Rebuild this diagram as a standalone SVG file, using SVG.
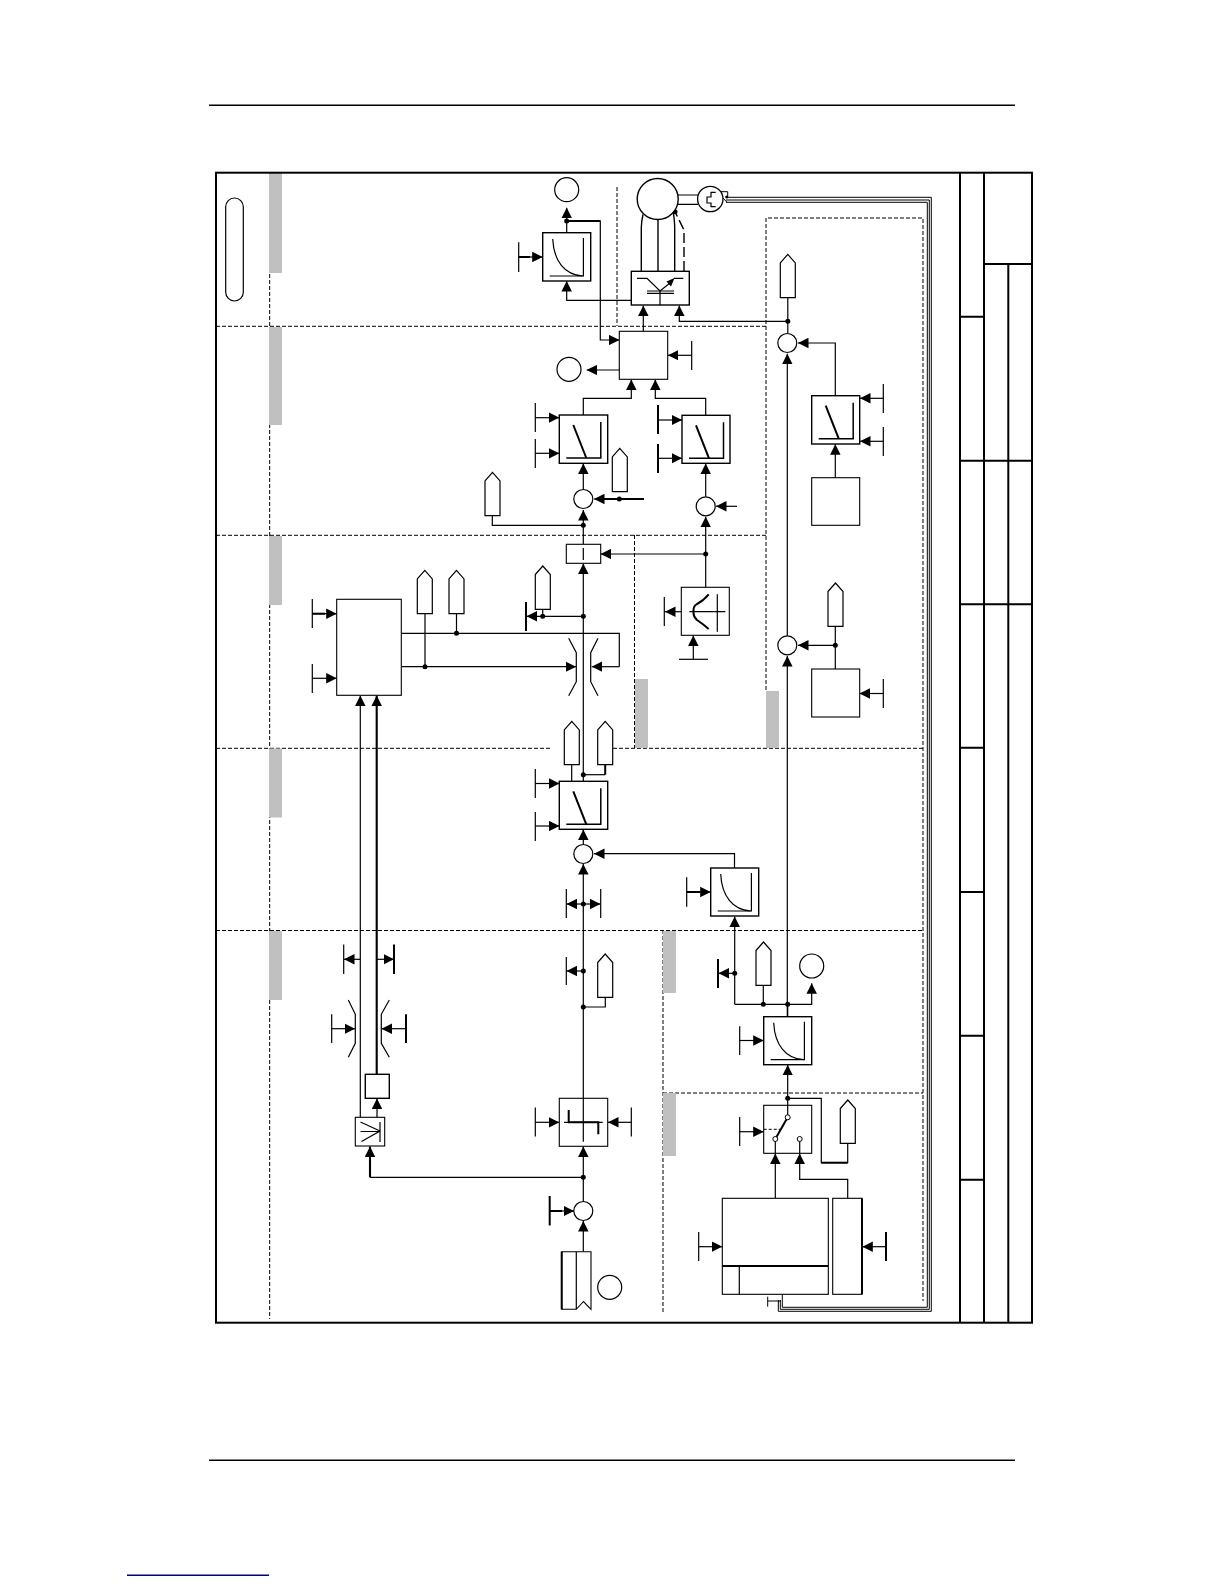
<svg xmlns="http://www.w3.org/2000/svg" width="1224" height="1584" viewBox="0 0 1224 1584">
<defs>
<marker id="a" viewBox="0 0 10 10" refX="10" refY="5" markerWidth="10.5" markerHeight="10.5" markerUnits="userSpaceOnUse" orient="auto"><path d="M0,0L10,5L0,10z" fill="#000"/></marker>
<path id="tag" d="M0,8.5L7.5,0L15,8.5V43.3H0z"/>
<g id="curve"><path d="M10,6C11,28 22,42 40,43" class="n m"/><path d="M7,43H40.7V5" class="n t12"/></g>
<g id="ramp"><path d="M14,10L27,43" class="n t"/><path d="M7,43H41.5V7" class="n t15"/></g>
</defs>
<style>
.n{fill:none;stroke:#000}
.m{stroke-width:1.2}
.t{stroke-width:2}
.t15{stroke-width:1.5}
.t12{stroke-width:1.2}
.b{fill:#fff;stroke:#000;stroke-width:1.1}
.bt{fill:#fff;stroke:#000;stroke-width:1.4}
.tagc{fill:#fff;stroke:#000;stroke-width:1.2}
.d{fill:none;stroke:#000;stroke-width:1;stroke-dasharray:4 2}
.g{fill:#c0c0c0}
.w{fill:none;stroke:#000;stroke-width:1}
.k{fill:none;stroke:#000;stroke-width:1.2;marker-end:url(#a)}
.kt{fill:none;stroke:#000;stroke-width:2.1;marker-end:url(#a)}
.dot{fill:#000}
.f{fill:none;stroke:#000;stroke-width:2}
.o{fill:#fff;stroke:#000;stroke-width:1.2}
</style>
<rect width="1224" height="1584" fill="#fff"/>

<g id="page-rules">
<path d="M209,105.3H1015M209,1460.3H1015" class="n t15"/>
<path d="M127,1575.3H269" fill="none" stroke="#000080" stroke-width="1.5"/>
</g>

<g id="zones">
<path class="d" d="M216,326.3H766M216,535.3H766M216,748.3H550M613,748.3H923M216,930.5H923M663,1093H923"/>
<path class="d" d="M269.7,172V1319M617,187V326M766,690V218H923V1301M634.5,535V748M663,930V1313"/>
<rect class="g" x="269" y="173" width="13" height="100"/>
<rect class="g" x="269" y="327" width="13" height="98"/>
<rect class="g" x="269" y="536" width="13" height="69"/>
<rect class="g" x="269" y="748.5" width="13" height="69"/>
<rect class="g" x="269" y="931" width="13" height="69"/>
<rect class="g" x="635" y="679" width="13" height="69"/>
<rect class="g" x="766" y="691" width="13" height="57"/>
<rect class="g" x="663" y="931" width="13" height="62"/>
<rect class="g" x="663" y="1093" width="13" height="63"/>
</g>

<g id="frame">
<rect x="216" y="172.7" width="816" height="1150" class="f"/>
<path class="f" d="M960,172.7V1322.7M984,172.7V1322.7M1008.3,264V1322.7M984,264H1032M960,316.7H984M960,460.7H1032M960,604.3H1032M960,747.7H984M960,892H984M960,1035.7H984M960,1179.7H984"/>
<rect x="225.7" y="198" width="17.6" height="103" rx="8.8" fill="#fff" stroke="#000" stroke-width="1.2"/>
</g>

<g id="connectors">
<path class="k" d="M518.7,257H542.7"/><path class="n t" d="M518.7,257H530"/>
<path class="n m" d="M518.7,242.3V272"/>
<path class="k" d="M566.7,232.7V207.7"/>
<path class="k" d="M566.7,221H600.3V340H619.3"/><path class="n t" d="M566.7,221H600.3"/>
<path class="k" d="M631.3,300.3H566.7V281"/>
<path class="k" d="M619.3,370H586.7"/>
<path class="k" d="M583.3,415V398.3H631.3V379.5"/>
<path class="k" d="M705.7,415.3V398.3H655.3V379.5"/>
<path class="k" d="M535.3,417.7H559.3"/><path class="k" d="M535.3,453.3H559.3"/>
<path class="n m" d="M535.3,403V432M535.3,439V468"/>
<path class="k" d="M583.3,489.5V463.5"/>
<path class="k" d="M644,499H594"/><path class="n t" d="M644,499H600"/>
<path class="k" d="M583.3,544.3V510"/>
<path class="n m" d="M492.3,515.7V525.3H583.3"/>
<path class="k" d="M658,420H682"/><path class="k" d="M658,458.3H682"/>
<path class="n t" d="M658,405V434M658,444V473"/>
<path class="k" d="M705.7,496.8V463.5"/>
<path class="k" d="M737,506.3H716"/>
<path class="k" d="M705.7,587.3V516.7"/>
<path class="k" d="M705.7,554H600.7"/>
<path class="k" d="M681.3,611.7H665"/><path class="n m" d="M664.3,597V626"/>
<path class="k" d="M693.3,659.3V635.5"/><path class="n m" d="M679,659.3H708"/>
<path class="k" d="M583.3,781.3V563.5"/>
<path class="k" d="M583.3,616.3H526.5"/><path class="n t" d="M526,602V631"/>
<path class="n m" d="M542.7,609.3V616.3"/>
<path class="n m" d="M401.3,633.3H619.3V666.7"/>
<path class="k" d="M619.3,666.7H591.7"/>
<path class="k" d="M401.3,666.7H576"/>
<path class="n m" d="M425,613.7V666.7M456.5,613.7V633.3"/>
<path class="k" d="M312.3,613.7H336.7"/><path class="n t" d="M312.3,613.7H325"/><path class="n m" d="M312.3,599V628"/>
<path class="k" d="M312.3,678.3H336.7"/><path class="n m" d="M312.3,664V693"/>
<path class="k" d="M360.3,1117.3V695.5"/>
<path class="kt" d="M376.7,1074.3V695.5"/>
<path class="k" d="M360.3,959.3H344"/><path class="n m" d="M343.7,944.5V974"/>
<path class="k" d="M376.7,959.3H394"/><path class="n t" d="M394,944.5V974"/>
<path class="k" d="M331.7,1028.7H355"/><path class="n m" d="M331.7,1014.3V1043"/>
<path class="k" d="M406,1028.7H381.5"/><path class="n t" d="M406,1014.3V1043"/>
<path class="n m" d="M348.3,1000L355.3,1014.3V1043.3L348.3,1057.3M389.3,1000L381.3,1014.3V1043.3L389.3,1057.3"/>
<path class="n m" d="M568.7,638.3L576.3,652.7V681.7L568.7,695.7M598,638.3L590.7,652.7V681.7L598,695.7"/>
<path class="n m" d="M571.7,764.7V781.3"/><path class="n t" d="M605.2,764.7V774.7"/><path class="n m" d="M605.2,774.7H583.3"/>
<path class="k" d="M535.3,783.5H559.3"/><path class="k" d="M535.3,826H559.3"/>
<path class="n m" d="M535.3,769V798M535.3,812V841"/>
<path class="k" d="M583.3,844.5V829.5"/>
<path class="k" d="M734.5,868V853.7H594"/>
<path class="k" d="M583.3,1098.3V864"/>
<path class="k" d="M583.3,904H566.5"/><path class="k" d="M583.3,904H600.5"/><path class="n m" d="M566.3,889V918M600.7,889V918"/>
<path class="k" d="M686.7,892H710.7"/><path class="n t" d="M686.7,892H700"/><path class="n m" d="M686.7,877.3V906.7"/>
<path class="k" d="M734.7,1004.3V916.5"/>
<path class="k" d="M734.7,973.3H718.5"/><path class="n t" d="M718,959V988"/>
<path class="k" d="M734.7,1004.3H811.7V983.3"/>
<path class="n m" d="M763.3,985.3V1004.3M787.7,1016.7V1004.3"/>
<path class="k" d="M583.3,971H566.5"/><path class="n m" d="M566.3,957V985"/>
<path class="n m" d="M583.3,1007H605.3V997.3"/>
<path class="k" d="M535.3,1122.3H559.3"/><path class="n m" d="M535.3,1107.5V1136.5"/>
<path class="k" d="M631.3,1122.3H608"/><path class="n m" d="M631.3,1107.5V1136.5"/>
<path class="k" d="M583.3,1201.5V1146.5"/>
<path class="n m" d="M583.3,1177.3H370"/><path class="kt" d="M370,1177.3V1146.5"/>
<path class="k" d="M377,1117.3V1098.5"/>
<path class="k" d="M549.7,1211H574"/><path class="n t" d="M549.7,1211H562M549.7,1196V1225.5"/>
<path class="k" d="M583.3,1251.7V1221"/>
<path class="k" d="M787.3,1016.7V656"/>
<path class="k" d="M787.3,635.8V353.7"/>
<path class="k" d="M835.3,669V645.3H798"/>
<path class="n m" d="M835.3,626V645.3"/>
<path class="k" d="M883.3,693.5H859.7"/><path class="n m" d="M883.3,679V708"/>
<path class="k" d="M835.3,395.7V343H798"/>
<path class="k" d="M835.3,477.7V444.2"/>
<path class="k" d="M883.3,398.3H860"/><path class="k" d="M883.3,441.3H860"/>
<path class="n m" d="M883.3,384V413M883.3,427V456"/>
<path class="n m" d="M787.8,297.7V333.5"/>
<path class="k" d="M787.8,321.3H679.3V305.5"/>
<path class="k" d="M643.3,331.3V305.5"/>
<path class="k" d="M691.7,355.3H667.9"/><path class="n m" d="M691.7,341V370"/>
<path class="n" stroke-width="1.4" d="M641.3,271V228Q641.3,222 643,214.5M658,271V219.5M674.7,271V228Q674.7,222 673.3,212"/>
<path class="n" stroke-width="1.4" stroke-dasharray="10 4" d="M684,271V230L675,211.7"/>
<path class="n m" d="M678,195H698M678,204.3H698"/>
<path class="w" d="M720,191.7H727.7V197M722,197L727,202.3"/>
<path class="w" d="M726.7,197.3H931.3V1311.3H778.3V1300"/>
<path class="w" d="M726,200H929.3V1309.3H780.3V1300"/>
<path class="w" d="M726,202.3H927.3V1307.3H782.3V1294.3"/>
<path class="w" d="M767.7,1296.7V1306.7M767.7,1301H781"/>
<path class="k" d="M787.7,1117.3V1064.9"/>
<path class="k" d="M739.7,1040.5H763.7"/><path class="n m" d="M739.7,1026.3V1055"/>
<path class="k" d="M739.7,1131.7H763.7"/><path class="n m" d="M739.7,1117V1146"/>
<path class="n m" d="M787.7,1098.3H821.3V1162.7H847.7V1143.3"/><path class="n t" d="M821.3,1162.7H847.7"/>
<path class="k" d="M775.3,1198.3V1153.5"/>
<path class="k" d="M847.7,1198.3V1179.3H799.7V1153.5"/>
<path class="k" d="M698.7,1246.7H722.3"/><path class="n m" d="M698.7,1232V1261"/>
<path class="k" d="M886,1246.7H862.3"/><path class="n t" d="M886,1232V1261"/>
</g>

<g id="dots">
<g class="dot">
<circle cx="566.7" cy="221" r="2.5"/><circle cx="583.3" cy="525.3" r="2.5"/><circle cx="619.3" cy="499" r="2.5"/>
<circle cx="705.7" cy="554" r="2.5"/><circle cx="583.3" cy="616.3" r="2.5"/><circle cx="542.7" cy="616.3" r="2.5"/>
<circle cx="425" cy="666.7" r="2.5"/><circle cx="456.5" cy="633.3" r="2.5"/><circle cx="583.3" cy="774.7" r="2.5"/>
<circle cx="583.3" cy="904" r="2.5"/><circle cx="583.3" cy="971" r="2.5"/><circle cx="583.3" cy="1007" r="2.5"/>
<circle cx="583.3" cy="1177.3" r="2.5"/><circle cx="734.7" cy="973.3" r="2.5"/><circle cx="763.3" cy="1004.3" r="2.5"/>
<circle cx="787.7" cy="1004.3" r="2.5"/><circle cx="787.7" cy="1098.3" r="2.5"/><circle cx="835.3" cy="645.3" r="2.5"/>
<circle cx="787.8" cy="321.3" r="2.5"/><circle cx="675" cy="211.7" r="2.5"/><circle cx="726.7" cy="197" r="1.5"/>
</g>
</g>

<g id="curve-1"><rect class="bt" x="542.7" y="232.7" width="48" height="48.3"/><use href="#curve" x="542.7" y="233"/></g>
<g id="curve-2"><rect class="bt" x="710.7" y="868" width="48" height="48"/><use href="#curve" x="710.7" y="868"/></g>
<g id="curve-3"><rect class="bt" x="763.7" y="1016.7" width="48" height="48"/><use href="#curve" x="763.7" y="1016.7"/></g>
<g id="ramp-1"><rect class="bt" x="559.3" y="415" width="48.4" height="48.3"/><use href="#ramp" x="559.3" y="415"/></g>
<g id="ramp-2"><rect class="bt" x="682" y="415.3" width="48" height="48"/><use href="#ramp" x="682" y="415.3"/></g>
<g id="ramp-3"><rect class="bt" x="559.3" y="781.3" width="48.4" height="48"/><use href="#ramp" x="559.3" y="781.3"/></g>
<g id="ramp-4"><rect class="bt" x="811.7" y="395.7" width="48" height="48.3"/><use href="#ramp" x="811.7" y="395.7"/></g>
<g id="current-controller"><rect class="b" x="619.3" y="331.3" width="48.4" height="48"/></g>
<g id="block-right"><rect class="b" x="811.7" y="477.7" width="48" height="47.6"/></g>
<g id="block-mid"><rect class="b" x="811.7" y="669" width="48" height="48"/></g>
<g id="igbt"><rect class="bt" x="631.3" y="271.3" width="58" height="33.7"/>
<path class="n m" d="M637,278.3H647L660,291L670,283M674,278.3H683.3"/><path d="M674.5,278L666.5,281.5L671,286.5z" fill="#000"/>
<path class="n m" d="M647,291H674M647,293.3H674M660,291V305"/></g>
<g id="motor"><circle cx="657.7" cy="199" r="20.5" fill="#fff" stroke="#000" stroke-width="1.4"/></g>
<g id="encoder"><circle cx="710.3" cy="199" r="12.7" fill="#fff" stroke="#000" stroke-width="1.3"/><path class="n m" d="M715.7,192.3H711V197H707V203H711V206.7H715.7"/></g>
<g id="summer-1"><circle class="o" cx="583.3" cy="499" r="9.5"/></g>
<g id="summer-2"><circle class="o" cx="705.7" cy="506.3" r="9.5"/></g>
<g id="summer-3"><circle class="o" cx="583.3" cy="854" r="9.5"/></g>
<g id="summer-4"><circle class="o" cx="583.3" cy="1211" r="9.5"/></g>
<g id="summer-5"><circle class="o" cx="787.3" cy="343" r="9.5"/></g>
<g id="summer-6"><circle class="o" cx="787.3" cy="645.3" r="9.5"/></g>
<g id="ref-1"><circle class="o" cx="566.7" cy="189.7" r="12"/></g>
<g id="ref-2"><circle class="o" cx="569" cy="369.3" r="12"/></g>
<g id="ref-3"><circle class="o" cx="811.7" cy="966" r="12"/></g>
<g id="ref-4"><circle class="o" cx="609.7" cy="1287.3" r="12"/></g>
<g id="tags">
<use href="#tag" class="tagc" x="485" y="472.4"/>
<use href="#tag" class="tagc" x="612.3" y="448.4"/>
<use href="#tag" class="tagc" x="417.3" y="570.4"/>
<use href="#tag" class="tagc" x="449" y="570.4"/>
<use href="#tag" class="tagc" x="535.3" y="566"/>
<use href="#tag" class="tagc" x="564.3" y="721.4"/>
<use href="#tag" class="tagc" x="597.7" y="721.4"/>
<use href="#tag" class="tagc" x="597.7" y="954"/>
<use href="#tag" class="tagc" x="756" y="942"/>
<use href="#tag" class="tagc" x="840.3" y="1100"/>
<use href="#tag" class="tagc" x="780.3" y="254.4"/>
<use href="#tag" class="tagc" x="828" y="583"/>
</g>
<g id="small-rect"><rect class="b" x="566.3" y="544.3" width="34.4" height="19"/><path class="n m" d="M583.3,548V560"/></g>
<g id="characteristic"><rect class="b" x="681.3" y="587.3" width="48" height="48"/>
<path class="n m" d="M689.3,611.7H725.3M717.3,594.3V631.7"/>
<path class="n t" d="M708.7,594.3Q703,601 697,604Q693.5,606 693.5,610V613Q693.5,617 697,620Q703,624 708.7,629"/></g>
<g id="limiter-source"><rect class="b" x="336.7" y="599.3" width="64.6" height="96"/></g>
<g id="small-box"><rect class="bt" x="365.3" y="1074.3" width="24" height="24"/></g>
<g id="comparator"><rect class="b" x="355.3" y="1117.3" width="29.4" height="28.7"/><path class="n m" d="M360.5,1122L380,1131L361.5,1141.5M360.5,1131.5H380M380,1122V1142"/></g>
<g id="dead-band"><rect class="b" x="559.3" y="1098.3" width="48.4" height="48"/>
<path class="n m" d="M583.3,1098.3V1141.7M564,1122.3H602.7"/><path class="n t" d="M568.7,1110V1122.3H598.3V1134.3"/></g>
<g id="ramp-gen"><path class="b" d="M561.7,1251.7H591V1309.3L583.5,1301.5L576.3,1309.3H561.7z"/><path class="n m" d="M576.3,1251.7V1309.3"/><path class="n t" d="M561.7,1251.7V1309.3"/></g>
<g id="switch"><rect class="b" x="763.7" y="1105.3" width="48" height="48"/>
<path class="n" stroke-width="1" stroke-dasharray="3 2" d="M763.7,1129.3H780"/>
<path class="n t" d="M775.3,1139L787.7,1117.3"/>
<path class="n m" d="M787.7,1105.3V1117.3M775.3,1153.3V1139M799.7,1153.3V1139"/>
<circle cx="775.3" cy="1139" r="2.5" fill="#fff" stroke="#000"/><circle cx="787.7" cy="1117.3" r="2.5" fill="#fff" stroke="#000"/><circle cx="799.7" cy="1139" r="2.5" fill="#fff" stroke="#000"/></g>
<g id="big-source"><rect class="b" x="722.3" y="1198.3" width="106" height="96"/><path class="n t" d="M722.3,1266H828.3"/><path class="n m" d="M739.3,1266V1294.3"/></g>
<g id="narrow-source"><rect class="b" x="832.7" y="1198.3" width="29.3" height="96"/><path class="n t" d="M862,1198.3V1294.3"/></g>
</svg>
